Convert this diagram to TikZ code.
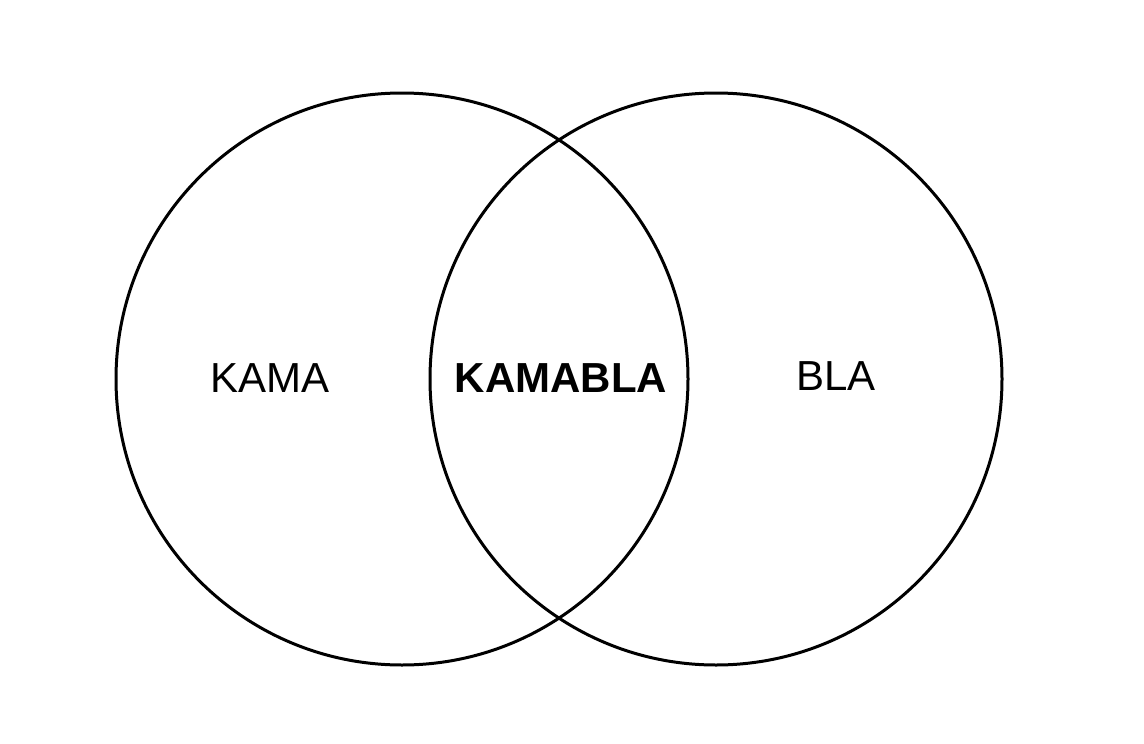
\documentclass[tikz,border=0pt]{standalone}
\usepackage{fontspec}
\setmainfont{Liberation Sans}
\begin{document}
\begin{tikzpicture}[x=1pt,y=-1pt,
  ring/.style={draw=black,line width=3pt,circle,minimum size=572pt,inner sep=0pt},
  lbl/.style={font=\fontsize{42}{48}\selectfont}]
\useasboundingbox (0,0) rectangle (1144,744);
\node[ring] (L) at (402,379) {};
\node[ring] (R) at (716,379) {};
\node[lbl] (k) at (270,378) {KAMA};
\node[lbl,font=\fontsize{42}{48}\selectfont\bfseries] (kb) at (561,378) {KAMABLA};
\node[lbl] (b) at (836,376) {BLA};
\end{tikzpicture}
\end{document}
